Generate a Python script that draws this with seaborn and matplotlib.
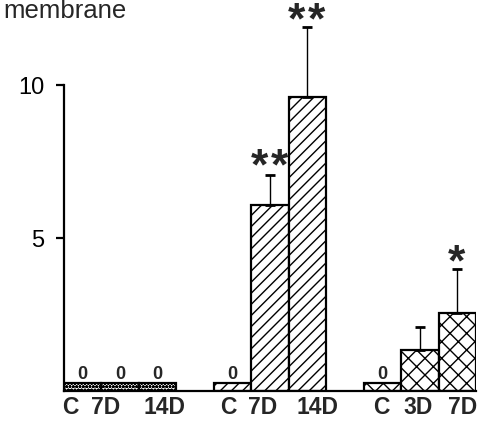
import numpy as np
import pandas as pd
import matplotlib
matplotlib.use("Agg")
import matplotlib.pyplot as plt
import seaborn as sns

# ---- data ----
conditions = ["A_C", "A_7D", "A_14D", "B_C", "B_7D", "B_14D", "C_C", "C_3D", "C_7D"]
tick_labels = ["C", "7D", "14D", "C", "7D", "14D", "C", "3D", "7D"]
values = [0.25, 0.25, 0.25, 0.25, 6.08, 9.61, 0.25, 1.34, 2.55]
err_up = [0.0, 0.0, 0.0, 0.0, 0.98, 2.29, 0.0, 0.75, 1.44]
zero_labels = ["0", "0", "0", "0", "", "", "0", "", ""]
stars = [0, 0, 0, 0, 2, 2, 0, 0, 1]
yticks = [5, 10]
ylabel_text = "membrane"

# ---- layout ----
order = ["A_C", "A_7D", "A_14D", "gap1", "B_C", "B_7D", "B_14D", "gap2", "C_C", "C_3D", "C_7D"]
hatches = ["ooooo"] * 3 + ["///"] * 3 + ["xx"] * 3
label_shift = [-0.33, -0.38, 0.17, -0.12, -0.21, 0.28, -0.04, -0.05, 0.15]
star_lift = [0, 0, 0, 0, 3, 0, 0, 0, 0]

sns.set_theme(style="white")
plt.rcParams["font.family"] = ["Liberation Sans", "DejaVu Sans"]
plt.rcParams["hatch.linewidth"] = 1.0

df = pd.DataFrame({"cond": conditions, "val": values})

fig = plt.figure(figsize=(4.99, 4.31), dpi=100)
ax = fig.add_axes([64 / 499, 1 - 392 / 431, 412 / 499, 392 / 431])

sns.barplot(data=df, x="cond", y="val", order=order, width=1.0, color="white",
            edgecolor="black", linewidth=1.6, errorbar=None, saturation=1, ax=ax)

pos = [order.index(c) for c in conditions]
for p in ax.patches:
    cx = p.get_x() + p.get_width() / 2
    i = pos.index(int(round(cx)))
    p.set_hatch(hatches[i])
    p.set_facecolor("white")
    p.set_edgecolor("black")

# error bars (upward only)
for x, v, e in zip(pos, values, err_up):
    if e > 0:
        ax.errorbar([x], [v], yerr=[[0], [e]], fmt="none", ecolor="black",
                    elinewidth=1.0, capsize=3.5, capthick=2, zorder=3)

# zero labels
for x, v, t in zip(pos, values, zero_labels):
    if t:
        ax.text(x, v + 0.05, t, ha="center", va="bottom", fontsize=13, fontweight="bold")

# significance stars
px2pt = 72 / 100
for x, v, e, n, lift in zip(pos, values, err_up, stars, star_lift):
    if n:
        offs = [0] if n == 1 else [-10, 10]
        for o in offs:
            ax.annotate("*", (x, v + e), xytext=(o * px2pt - 0.5, (-6 + lift) * px2pt),
                        textcoords="offset points", ha="center", va="baseline",
                        fontsize=32, fontweight="bold")

ax.set_xlim(-0.5, 10.5)
ax.set_ylim(0, 392 / 30.6)
ax.set_yticks(yticks)
ax.set_yticklabels([str(t) for t in yticks], fontsize=17)
ax.set_xticks([p + s for p, s in zip(pos, label_shift)])
ax.set_xticklabels(tick_labels, fontsize=16.5, fontweight="bold")
ax.tick_params(axis="x", length=0, pad=3)
ax.tick_params(axis="y", length=6, width=1.6, pad=8, direction="out", left=True, colors="black")
ax.set_xlabel("")
ax.set_ylabel("")

for side in ["top", "right"]:
    ax.spines[side].set_visible(False)
ax.spines["left"].set_bounds(0, 10)
ax.spines["left"].set_linewidth(1.6)
ax.spines["bottom"].set_linewidth(1.6)
ax.spines["left"].set_color("black")
ax.spines["bottom"].set_color("black")
ax.patch.set_alpha(0)

fig.text(3 / 499, 1 - 18 / 431, ylabel_text, ha="left", va="baseline", fontsize=18.5)

fig.savefig("out.png", dpi=100)
